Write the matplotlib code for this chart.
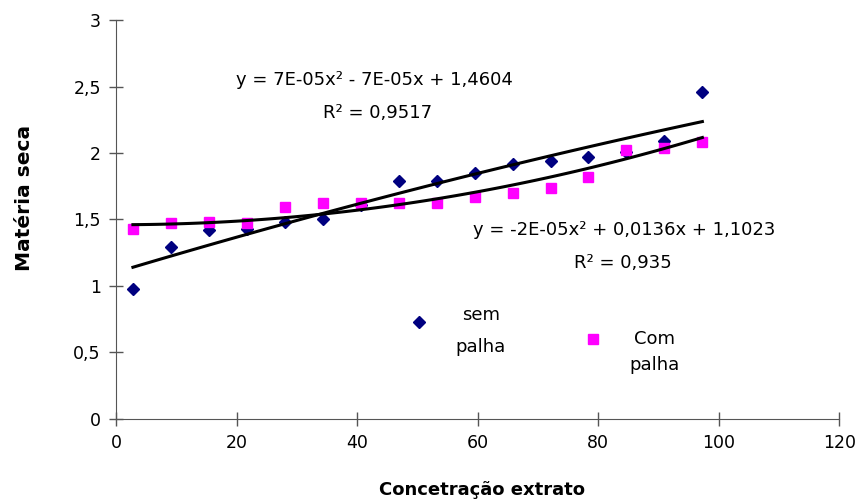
import numpy as np
from matplotlib import pyplot as plt
from matplotlib.ticker import FuncFormatter
from matplotlib.legend_handler import HandlerLine2D

plt.rcParams['font.family'] = ['DejaVu Sans']

conc = [2.8, 9.1, 15.4, 21.7, 28.0, 34.3, 40.6, 46.9,
        53.2, 59.5, 65.8, 72.1, 78.4, 84.7, 91.0, 97.3]
sem_palha = [0.98, 1.29, 1.42, 1.43, 1.48, 1.50, 1.61, 1.79,
             1.79, 1.85, 1.92, 1.94, 1.97, 2.01, 2.09, 2.46]
com_palha = [1.43, 1.47, 1.48, 1.47, 1.59, 1.62, 1.62, 1.62,
             1.62, 1.67, 1.70, 1.74, 1.82, 2.02, 2.04, 2.08]

# trend line coefficients as printed on the chart (a*x^2 + b*x + c)
coef_sem = [-2e-05, 0.0136, 1.1023]
coef_com = [7e-05, -7e-05, 1.4604]

W, H = 866, 501
def px(x, y):
    return x / W, 1 - y / H


class RaisedMarker(HandlerLine2D):
    # legend marker sitting higher than the middle of the label block
    def __init__(self, dy, **kw):
        super().__init__(**kw)
        self.dy = dy

    def create_artists(self, legend, orig_handle, xdescent, ydescent, width, height,
                       fontsize, trans):
        return super().create_artists(legend, orig_handle, xdescent, ydescent - 2 * self.dy,
                                      width, height, fontsize, trans)


fig = plt.figure(figsize=(8.66, 5.01), dpi=100)
ax = fig.add_axes([0.134, 0.164, 0.835, 0.796])

d = ax.plot(conc, sem_palha, 'D', color='#000080', markersize=6, zorder=3)[0]
s = ax.plot(conc, com_palha, 's', color='#FF00FF', markersize=6.5, zorder=3)[0]

xs = np.linspace(conc[0], conc[-1], 100)
ax.plot(xs, np.polyval(coef_sem, xs), color='black', lw=2.2, zorder=4)
ax.plot(xs, np.polyval(coef_com, xs), color='black', lw=2.2, zorder=4)

fig.text(*px(374, 80), 'y = 7E-05x² - 7E-05x + 1,4604', fontsize=13, ha='center', va='center')
fig.text(*px(378, 113), 'R² = 0,9517', fontsize=13, ha='center', va='center')
fig.text(*px(624, 230), 'y = -2E-05x² + 0,0136x + 1,1023', fontsize=13, ha='center', va='center')
fig.text(*px(623, 263), 'R² = 0,935', fontsize=13, ha='center', va='center')

ax.set_xlim(0, 120)
ax.set_ylim(0, 3)
ax.set_xticks(range(0, 121, 20))
ax.set_yticks(np.arange(0, 3.01, 0.5))
ax.yaxis.set_major_formatter(FuncFormatter(lambda v, p: ('%g' % v).replace('.', ',')))
ax.tick_params(direction='inout', length=10, width=1, color='#555555', labelsize=12.5, pad=6)
for sp in ['top', 'right']:
    ax.spines[sp].set_visible(False)
for sp in ['left', 'bottom']:
    ax.spines[sp].set_color('#555555')

fig.text(*px(482, 490), 'Concetração extrato', fontsize=13, fontweight='bold',
         ha='center', va='center')
fig.text(*px(25, 198), 'Matéria seca', fontsize=14.5, fontweight='bold',
         ha='center', va='center', rotation=90)

leg1 = ax.legend([d], ['sem\npalha'], loc='center', bbox_to_anchor=(0.473, 0.22),
                 frameon=False, fontsize=13, handletextpad=1.5, handlelength=1,
                 handler_map={d: RaisedMarker(7)})
for t in leg1.get_texts():
    t.set_multialignment('center')
    t.set_linespacing(2.0)
ax.add_artist(leg1)
leg2 = ax.legend([s], ['Com\npalha'], loc='center', bbox_to_anchor=(0.713, 0.168),
                 frameon=False, fontsize=13, handletextpad=1.5, handlelength=1,
                 handler_map={s: RaisedMarker(10)})
for t in leg2.get_texts():
    t.set_multialignment('center')
    t.set_linespacing(1.6)

fig.savefig('out.png', dpi=100)
